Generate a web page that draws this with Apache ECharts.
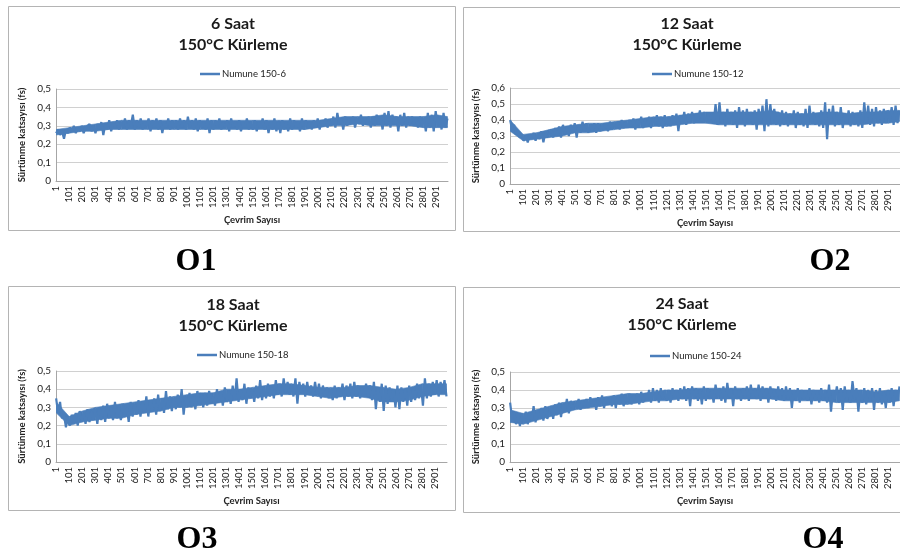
<!DOCTYPE html>
<html><head><meta charset="utf-8">
<script src="https://cdn.jsdelivr.net/npm/echarts@6/dist/echarts.min.js"></script>
<style>html,body{margin:0;padding:0;background:#fff}#c{width:900px;height:558px}</style>
</head><body><div id="c"></div>
<script>
// ---- data (friction coefficient vs. cycle) ----
const STEP = 15;          // noisy trace sampled every 15 cycles
const ENV_STEP = 100;     // dense-band core sampled every 100 cycles (last point at LAST_CYCLE)
const LAST_CYCLE = 2986;
const xTickLabels = ['1','101','201','301','401','501','601','701','801','901','1001','1101','1201','1301','1401','1501','1601','1701','1801','1901','2001','2101','2201','2301','2401','2501','2601','2701','2801','2901'];
const panelTags = ['O1','O2','O3','O4'];
const titles = ['6 Saat','12 Saat','18 Saat','24 Saat'];
const subtitle = '150°C Kürleme';
const seriesNames = ['Numune 150-6','Numune 150-12','Numune 150-18','Numune 150-24'];
const yMax = [0.5, 0.6, 0.5, 0.5];
const yAxisName = 'Sürtünme katsayısı (fs)';
const xAxisName = 'Çevrim Sayısı';

const s6 = [
.26,.28,.25,.27,.23,.28,.26,.29,.27,.30,.26,.29,.27,.30,.26,.29,.28,.31,.27,.30,
.26,.31,.28,.32,.25,.31,.28,.33,.27,.32,.29,.33,.28,.32,.29,.34,.28,.33,.30,.36,
.28,.33,.29,.34,.28,.32,.30,.34,.27,.33,.29,.34,.28,.33,.26,.32,.29,.34,.28,.33,
.29,.33,.28,.34,.29,.33,.28,.35,.29,.33,.28,.34,.27,.33,.29,.32,.28,.34,.26,.33,
.28,.33,.29,.34,.28,.32,.29,.33,.27,.34,.29,.32,.28,.33,.27,.32,.29,.34,.28,.32,
.28,.33,.27,.32,.29,.34,.28,.33,.26,.32,.28,.34,.27,.32,.26,.33,.28,.32,.27,.34,
.28,.33,.29,.32,.27,.34,.28,.33,.29,.32,.28,.33,.29,.34,.28,.33,.30,.34,.29,.33,
.30,.35,.29,.37,.31,.34,.28,.35,.30,.34,.31,.35,.29,.34,.31,.36,.30,.34,.31,.35,
.29,.35,.30,.36,.31,.35,.28,.37,.30,.38,.29,.36,.31,.35,.27,.36,.30,.37,.29,.35,
.30,.35,.31,.34,.29,.35,.30,.34,.27,.37,.29,.36,.27,.38,.30,.35,.28,.37,.29,.34];
const lo6 = [.25,.26,.27,.27,.28,.28,.28,.28,.28,.28,.28,.28,.28,.28,.28,.28,.28,.28,.28,.28,.29,.30,.30,.31,.30,.30,.30,.30,.29,.29,.29];
const hi6 = [.28,.29,.30,.31,.32,.33,.33,.33,.33,.33,.33,.33,.33,.33,.33,.33,.33,.33,.33,.33,.33,.34,.35,.35,.35,.36,.35,.35,.35,.36,.35];

const s12 = [
.40,.34,.37,.31,.33,.29,.31,.27,.30,.26,.31,.28,.32,.27,.31,.28,.33,.26,.32,.29,
.28,.34,.29,.35,.30,.36,.29,.37,.31,.36,.30,.37,.32,.38,.29,.37,.32,.39,.33,.38,
.32,.37,.33,.38,.32,.38,.33,.37,.34,.38,.33,.39,.34,.38,.35,.39,.34,.40,.35,.39,
.35,.40,.36,.41,.34,.40,.37,.42,.35,.41,.36,.42,.35,.41,.37,.43,.36,.42,.35,.43,
.37,.42,.36,.43,.38,.44,.33,.43,.38,.45,.37,.44,.39,.45,.38,.44,.40,.46,.39,.45,
.39,.43,.40,.44,.38,.50,.37,.51,.38,.45,.36,.47,.38,.45,.37,.46,.35,.48,.38,.46,
.36,.47,.38,.45,.37,.46,.34,.47,.38,.49,.33,.53,.36,.50,.38,.47,.37,.45,.36,.46,
.37,.45,.36,.44,.38,.46,.35,.45,.37,.44,.36,.47,.35,.49,.38,.45,.37,.44,.36,.46,
.35,.51,.28,.47,.38,.49,.36,.45,.37,.48,.35,.44,.38,.46,.36,.45,.37,.44,.36,.46,
.35,.51,.38,.49,.37,.47,.36,.48,.38,.46,.37,.47,.38,.46,.39,.48,.37,.49,.38,.46];
const lo12 = [.33,.27,.28,.29,.30,.32,.32,.33,.34,.35,.35,.36,.36,.37,.38,.38,.37,.37,.37,.37,.37,.37,.37,.37,.37,.37,.37,.37,.38,.38,.39];
const hi12 = [.40,.31,.32,.34,.36,.37,.38,.38,.39,.40,.41,.42,.42,.43,.44,.45,.45,.45,.45,.45,.46,.44,.44,.44,.45,.45,.44,.45,.45,.46,.46];

const s18 = [
.35,.27,.33,.24,.26,.19,.25,.20,.26,.21,.27,.20,.28,.22,.27,.21,.29,.22,.28,.23,
.29,.21,.30,.23,.31,.22,.32,.24,.30,.23,.33,.24,.31,.23,.32,.25,.30,.22,.33,.25,
.32,.26,.34,.25,.33,.27,.36,.25,.34,.28,.35,.26,.37,.28,.35,.27,.39,.29,.36,.28,
.35,.29,.37,.30,.40,.26,.36,.31,.38,.30,.36,.29,.39,.32,.37,.30,.38,.31,.39,.32,
.36,.31,.40,.33,.38,.31,.41,.33,.39,.32,.42,.34,.46,.33,.40,.34,.43,.32,.41,.35,
.40,.33,.42,.35,.45,.34,.41,.35,.43,.36,.41,.35,.45,.37,.43,.36,.46,.38,.44,.37,
.42,.36,.46,.32,.44,.38,.43,.36,.44,.37,.42,.36,.44,.37,.43,.35,.42,.36,.41,.35,
.40,.34,.42,.35,.41,.36,.43,.34,.42,.36,.43,.35,.44,.36,.42,.35,.41,.37,.43,.36,
.42,.34,.44,.29,.41,.33,.43,.28,.42,.32,.41,.34,.40,.30,.42,.29,.41,.33,.40,.31,
.42,.33,.41,.34,.43,.35,.42,.31,.46,.35,.43,.36,.44,.37,.45,.36,.44,.38,.45,.36];
const lo18 = [.27,.20,.22,.23,.24,.24,.26,.27,.28,.30,.30,.31,.32,.33,.34,.35,.36,.37,.37,.37,.36,.35,.36,.36,.35,.33,.33,.34,.36,.37,.37];
const hi18 = [.33,.25,.28,.30,.31,.32,.33,.34,.35,.36,.37,.38,.38,.40,.40,.41,.42,.43,.43,.42,.41,.41,.41,.42,.42,.41,.40,.41,.43,.43,.43];

const s24 = [
.33,.24,.28,.21,.26,.20,.27,.22,.28,.21,.27,.23,.31,.22,.29,.24,.30,.23,.31,.24,
.25,.31,.24,.32,.26,.33,.25,.32,.28,.35,.27,.34,.29,.33,.30,.35,.29,.34,.31,.35,
.30,.36,.31,.35,.29,.36,.31,.37,.30,.36,.32,.36,.31,.37,.30,.37,.32,.38,.31,.37,
.33,.38,.32,.37,.33,.38,.32,.39,.33,.38,.34,.40,.33,.41,.34,.40,.33,.41,.35,.40,
.34,.40,.33,.41,.35,.40,.34,.41,.35,.42,.34,.41,.31,.42,.35,.41,.34,.40,.32,.42,
.34,.41,.35,.40,.33,.43,.36,.41,.34,.42,.33,.44,.36,.41,.31,.42,.35,.40,.34,.41,
.35,.42,.34,.43,.36,.41,.35,.43,.34,.42,.36,.41,.33,.42,.35,.40,.34,.42,.35,.41,
.34,.42,.35,.41,.30,.40,.34,.41,.33,.40,.35,.39,.34,.41,.32,.40,.34,.39,.33,.41,
.34,.40,.33,.43,.28,.40,.35,.42,.33,.41,.29,.42,.34,.40,.33,.45,.35,.41,.28,.40,
.33,.41,.32,.40,.34,.41,.29,.40,.33,.41,.32,.39,.30,.40,.33,.41,.31,.40,.34,.42];
const lo24 = [.22,.21,.23,.25,.27,.29,.30,.31,.32,.32,.33,.34,.34,.35,.35,.35,.35,.35,.35,.35,.35,.34,.34,.34,.34,.33,.33,.33,.33,.33,.34];
const hi24 = [.29,.27,.29,.31,.33,.34,.35,.36,.37,.38,.38,.39,.40,.40,.41,.41,.41,.41,.41,.41,.41,.40,.40,.40,.40,.40,.40,.40,.39,.40,.40];

const allSeries = [s6, s12, s18, s24];
const allLo = [lo6, lo12, lo18, lo24];
const allHi = [hi6, hi12, hi18, hi24];

// ---- layout (pixels) ----
const layout = [
  {box:[8.5,6.5,447,224],  grid:{left:56, top:89, width:392, height:92}, cx:233, tTop:24, legL:195, legT:70, tag:[196,262]},
  {box:[463.5,7.5,460,224], grid:{left:510, top:88, width:390, height:96}, cx:687, tTop:24, legL:647, legT:70, tag:[830,262]},
  {box:[8.5,286.5,447,224], grid:{left:56, top:371, width:391, height:91}, cx:233, tTop:305, legL:192, legT:351, tag:[197,540]},
  {box:[463.5,287.5,460,225], grid:{left:510, top:372, width:390, height:90}, cx:682, tTop:304, legL:645, legT:352, tag:[823,540]}
];
const FONT = 'Lato, "Open Sans", sans-serif';
const BLUE = '#4a7ebb';
const envX = (j) => Math.min(1 + j*ENV_STEP, LAST_CYCLE);

// band segment between envelope samples j and j+1, positioned by the axes' scales
function renderBand(params, api) {
  const j = params.dataIndexInside;
  if (j >= params.dataInsideLength - 1) return null;
  const a0 = api.coord([api.value(0, j), api.value(1, j)]);
  const a1 = api.coord([api.value(0, j+1), api.value(1, j+1)]);
  const b1 = api.coord([api.value(0, j+1), api.value(2, j+1)]);
  const b0 = api.coord([api.value(0, j), api.value(2, j)]);
  return {type:'polygon', shape:{points:[a0, a1, b1, b0]}, style:{fill:BLUE, stroke:BLUE, lineWidth:0.6}, silent:true};
}

const grids = [], xAxes = [], yAxes = [], series = [], legends = [], graphics = [];
layout.forEach((L, i) => {
  graphics.push({type:'rect', shape:{x:L.box[0], y:L.box[1], width:L.box[2], height:L.box[3]},
    style:{fill:'none', stroke:'#b4b4b4', lineWidth:1}, silent:true, z:-1});
  graphics.push({type:'text', x:L.cx, y:L.tTop, style:{text:titles[i], font:'bold 16px '+FONT, fill:'#1a1a1a', textAlign:'center', textVerticalAlign:'middle'}});
  graphics.push({type:'text', x:L.cx, y:L.tTop+21, style:{text:subtitle, font:'bold 16px '+FONT, fill:'#1a1a1a', textAlign:'center', textVerticalAlign:'middle'}});
  graphics.push({type:'text', x:L.tag[0], y:L.tag[1], style:{text:panelTags[i], font:'bold 32px "Liberation Serif", "Times New Roman", serif', fill:'#000', textAlign:'center', textVerticalAlign:'middle'}});
  grids.push(Object.assign({containLabel:false}, L.grid));
  xAxes.push({type:'value', gridIndex:i, min:0, max:2990, interval:100,
    name:xAxisName, nameLocation:'middle', nameGap:34,
    nameTextStyle:{fontFamily:FONT, fontWeight:'bold', fontSize:9.5, color:'#222'},
    axisLine:{show:true, lineStyle:{color:'#a6a6a6'}}, axisTick:{show:false}, splitLine:{show:false},
    axisLabel:{rotate:90, fontSize:9.5, fontFamily:FONT, color:'#222', margin:5, showMaxLabel:false,
      formatter:(v)=>{const k=Math.round(v/100); return k<xTickLabels.length? xTickLabels[k] : '';}}});
  yAxes.push({type:'value', gridIndex:i, min:0, max:yMax[i], interval:0.1,
    name:yAxisName, nameLocation:'middle', nameRotate:90, nameGap:29,
    nameTextStyle:{fontFamily:FONT, fontWeight:'bold', fontSize:9.5, color:'#222'},
    axisLine:{show:true, lineStyle:{color:'#a6a6a6'}}, axisTick:{show:false},
    splitLine:{show:true, lineStyle:{color:'#d0d0d0'}},
    axisLabel:{fontSize:10, fontFamily:FONT, color:'#222', margin:5,
      formatter:(v)=> v===0 ? '0' : v.toFixed(1).replace('.',',')}});
  // dense core of the band
  series.push({type:'custom', name:'_band'+i, xAxisIndex:i, yAxisIndex:i, clip:true,
    data: allLo[i].map((v,j)=>[envX(j), v, allHi[i][j]]),
    encode:{x:0, y:[1,2]}, renderItem:renderBand, silent:true, animation:false, z:1});
  // the noisy trace
  series.push({type:'line', name:seriesNames[i], xAxisIndex:i, yAxisIndex:i,
    data: allSeries[i].map((v,j)=>[1+j*STEP, v]), z:2,
    showSymbol:false, symbol:'none', lineStyle:{color:BLUE, width:2.2}, itemStyle:{color:BLUE}, animation:false});
  legends.push({data:[seriesNames[i]], left:L.legL, top:L.legT-6, icon:'rect', itemWidth:20, itemHeight:2.5, itemGap:0,
    textStyle:{fontFamily:FONT, fontSize:9.5, color:'#222', padding:[0,0,0,-3]}, selectedMode:false});
});

const chart = echarts.init(document.getElementById('c'));
chart.setOption({backgroundColor:'#fff', animation:false, grid:grids, xAxis:xAxes, yAxis:yAxes, series:series, legend:legends, graphic:graphics});
</script></body></html>
